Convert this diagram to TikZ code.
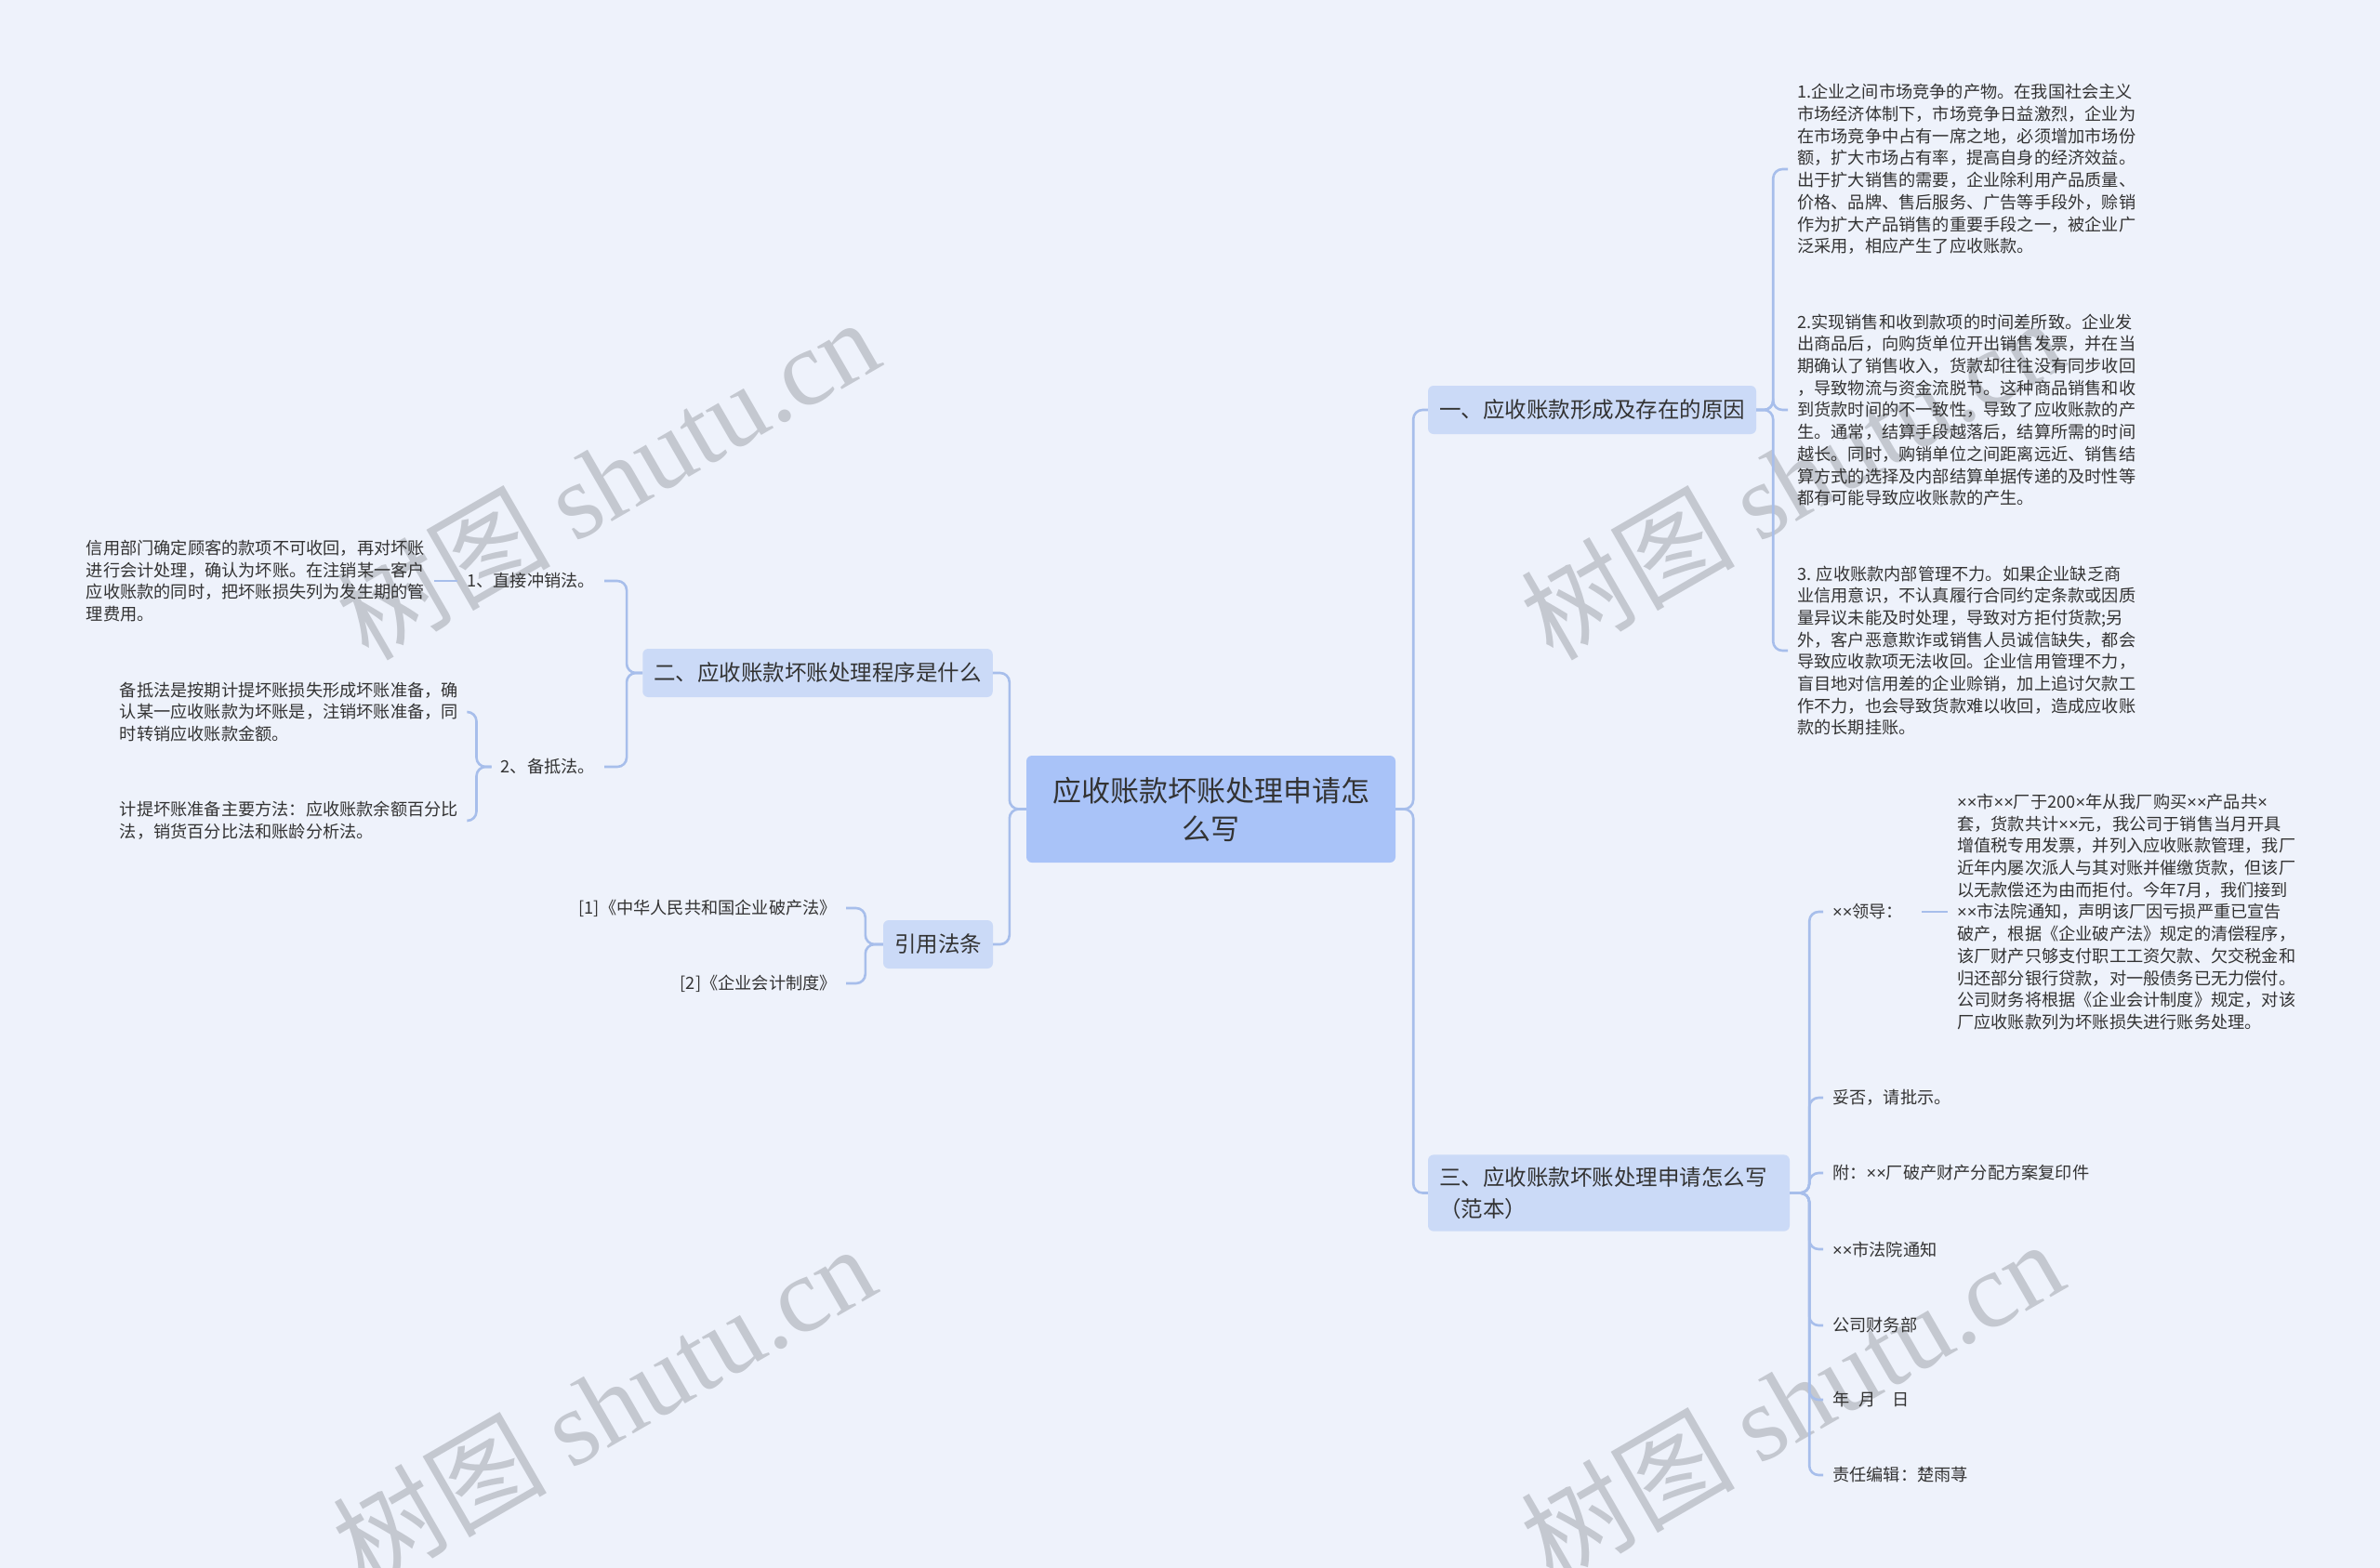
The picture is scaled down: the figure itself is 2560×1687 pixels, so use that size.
\documentclass[tikz,border=0pt]{standalone}
\usepackage{fontspec}
\setmainfont{Noto Sans CJK SC}
\newfontfamily\wmfont{Liberation Serif}
\newfontfamily\latinfont{Liberation Sans}
\usepackage{tikz}
\usepackage{xcolor}
\definecolor{bgblue}{HTML}{EEF2FB}
\definecolor{rootblue}{HTML}{A9C3F8}
\definecolor{mainblue}{HTML}{CBDAF7}
\definecolor{linkblue}{HTML}{A7BEEB}
\definecolor{inkgray}{HTML}{333333}
\definecolor{wmgray}{HTML}{C4C8D0}
\newcommand{\tms}{{\latinfont ×}}

\begin{document}
\begin{tikzpicture}[x=1pt, y=-1pt,
  rootbox/.style={fill=rootblue, rounded corners=6pt, align=center, text=inkgray, font=\fontsize{31}{41}\selectfont, minimum width=397pt, minimum height=115pt},
  mainbox/.style={fill=mainblue, rounded corners=6pt, text=inkgray, font=\fontsize{23.5}{34}\selectfont, inner xsep=12pt, minimum height=52pt},
  leaf/.style={text=inkgray, align=left, font=\fontsize{18.2}{23.7}\selectfont, inner xsep=10pt, inner ysep=0pt},
  link/.style={draw=linkblue, line width=2.6pt, rounded corners=10pt},
  wm/.style={text=wmgray, font=\fontsize{115}{115}\selectfont, rotate=30}]
\fill[bgblue] (0,0) rectangle (2560,1687);
\useasboundingbox (0,0) rectangle (2560,1687);
% Watermarks
\node[wm] (wm1) at (653,514) {树图 {\wmfont shutu.cn}};
\node[wm] (wm2) at (649,1511) {树图 {\wmfont shutu.cn}};
\node[wm] (wm3) at (1927,514) {树图 {\wmfont shutu.cn}};
\node[wm] (wm4) at (1927,1506) {树图 {\wmfont shutu.cn}};
% Nodes
\node[rootbox] (root) at (1302.5,870.5) {应收账款坏账处理申请怎\\么写};
\node[mainbox] (b1) at (1712.5,441) {一、应收账款形成及存在的原因};
\node[mainbox] (b2) at (879.5,724) {二、应收账款坏账处理程序是什么};
\node[mainbox] (b3) at (1009,1016) {引用法条};
\node[mainbox, text width=365pt, align=left, inner ysep=13pt] (b4) at (1730.5,1283.5) {三、应收账款坏账处理申请怎么写\\（范本）};
% right side
\node[leaf, anchor=west] (r1) at (1923,182) {1.企业之间市场竞争的产物。在我国社会主义\\市场经济体制下，市场竞争日益激烈，企业为\\在市场竞争中占有一席之地，必须增加市场份\\额，扩大市场占有率，提高自身的经济效益。\\出于扩大销售的需要，企业除利用产品质量、\\价格、品牌、售后服务、广告等手段外，赊销\\作为扩大产品销售的重要手段之一，被企业广\\泛采用，相应产生了应收账款。};
\node[leaf, anchor=west] (r2) at (1923,441) {2.实现销售和收到款项的时间差所致。企业发\\出商品后，向购货单位开出销售发票，并在当\\期确认了销售收入，货款却往往没有同步收回\\，导致物流与资金流脱节。这种商品销售和收\\到货款时间的不一致性，导致了应收账款的产\\生。通常，结算手段越落后，结算所需的时间\\越长。同时，购销单位之间距离远近、销售结\\算方式的选择及内部结算单据传递的及时性等\\都有可能导致应收账款的产生。};
\node[leaf, anchor=west] (r3) at (1923,700) {3. 应收账款内部管理不力。如果企业缺乏商\\业信用意识，不认真履行合同约定条款或因质\\量异议未能及时处理，导致对方拒付货款;另\\外，客户恶意欺诈或销售人员诚信缺失，都会\\导致应收款项无法收回。企业信用管理不力，\\盲目地对信用差的企业赊销，加上追讨欠款工\\作不力，也会导致货款难以收回，造成应收账\\款的长期挂账。};
\node[leaf, anchor=west] (s1) at (1961,981) {\tms\tms 领导：};
\node[leaf, anchor=west] (s1text) at (2095,981) {\tms\tms 市\tms\tms 厂于200\tms 年从我厂购买\tms\tms 产品共\tms\\套，货款共计\tms\tms 元，我公司于销售当月开具\\增值税专用发票，并列入应收账款管理，我厂\\近年内屡次派人与其对账并催缴货款，但该厂\\以无款偿还为由而拒付。今年7月，我们接到\\\tms\tms 市法院通知，声明该厂因亏损严重已宣告\\破产，根据《企业破产法》规定的清偿程序，\\该厂财产只够支付职工工资欠款、欠交税金和\\归还部分银行贷款，对一般债务已无力偿付。\\公司财务将根据《企业会计制度》规定，对该\\厂应收账款列为坏账损失进行账务处理。};
\node[leaf, anchor=west] (s2) at (1961,1181) {妥否，请批示。};
\node[leaf, anchor=west] (s3) at (1961,1262) {附：\tms\tms 厂破产财产分配方案复印件};
\node[leaf, anchor=west] (s4) at (1961,1344) {\tms\tms 市法院通知};
\node[leaf, anchor=west] (s5) at (1961,1426) {公司财务部};
\node[leaf, anchor=west] (s6) at (1961,1506) {年\hspace{10pt}月\hspace{18pt}日};
\node[leaf, anchor=west] (s7) at (1961,1587) {责任编辑：楚雨荨};
% left side
\node[leaf, anchor=east] (c1) at (650,625) {1、直接冲销法。};
\node[leaf, anchor=east] (c2) at (650,825) {2、备抵法。};
\node[leaf, anchor=east] (d1) at (467,625) {信用部门确定顾客的款项不可收回，再对坏账\\进行会计处理，确认为坏账。在注销某一客户\\应收账款的同时，把坏账损失列为发生期的管\\理费用。};
\node[leaf, anchor=east] (d2) at (503,766) {备抵法是按期计提坏账损失形成坏账准备，确\\认某一应收账款为坏账是，注销坏账准备，同\\时转销应收账款金额。};
\node[leaf, anchor=east] (d3) at (503,883) {计提坏账准备主要方法：应收账款余额百分比\\法，销货百分比法和账龄分析法。};
\node[leaf, anchor=east] (e1) at (910,977) {[1]《中华人民共和国企业破产法》};
\node[leaf, anchor=east] (e2) at (910,1058) {[2]《企业会计制度》};
% Edges
  \draw[link] (root.east) -- ++(19,0) |- (b1.west);
  \draw[link] (root.east) -- ++(19,0) |- (b4.west);
  \draw[link] (root.west) -- ++(-18,0) |- (b2.east);
  \draw[link] (root.west) -- ++(-18,0) |- (b3.east);
  \draw[link] (b1.east) -- ++(18,0) |- (r1.west);
  \draw[link] (b1.east) -- ++(18,0) |- (r2.west);
  \draw[link] (b1.east) -- ++(18,0) |- (r3.west);
  \draw[link] (b4.east) -- ++(21,0) |- (s1.west);
  \draw[link] (b4.east) -- ++(21,0) |- (s2.west);
  \draw[link] (b4.east) -- ++(21,0) |- (s3.west);
  \draw[link] (b4.east) -- ++(21,0) |- (s4.west);
  \draw[link] (b4.east) -- ++(21,0) |- (s5.west);
  \draw[link] (b4.east) -- ++(21,0) |- (s6.west);
  \draw[link] (b4.east) -- ++(21,0) |- (s7.west);
  \draw[link, shorten <=10pt] (s1.east) -- (s1text.west);
  \draw[link] (b2.west) -- ++(-17,0) |- (c1.east);
  \draw[link] (b2.west) -- ++(-17,0) |- (c2.east);
  \draw[link] (c1.west) -- (d1.east);
  \draw[link] (c2.west) -- ++(-16,0) |- (d2.east);
  \draw[link] (c2.west) -- ++(-16,0) |- (d3.east);
  \draw[link] (b3.west) -- ++(-19,0) |- (e1.east);
  \draw[link] (b3.west) -- ++(-19,0) |- (e2.east);
\end{tikzpicture}
\end{document}
